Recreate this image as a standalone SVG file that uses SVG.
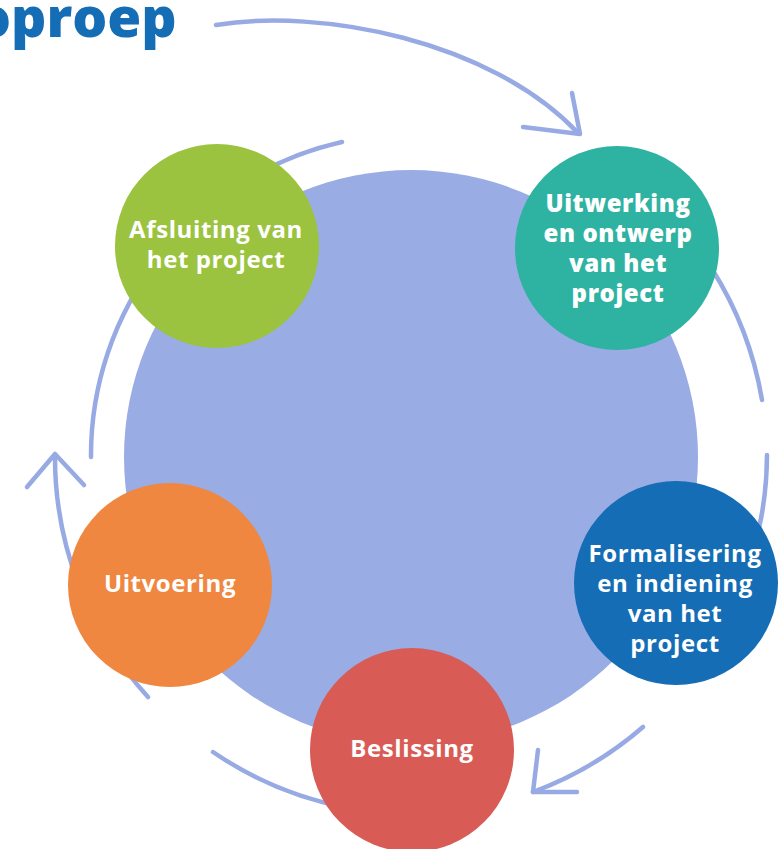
<svg xmlns="http://www.w3.org/2000/svg" width="779" height="849" viewBox="0 0 779 849">
<style>
.arc{fill:none;stroke:#98aae3;stroke-width:4.5;stroke-linecap:round;stroke-linejoin:round}
.lbl{font-family:"Open Sans","Liberation Sans",sans-serif;font-weight:700;font-size:24px;letter-spacing:0.6px;fill:#ffffff;text-anchor:middle}
.heavy{font-weight:800;font-size:24px;letter-spacing:0.6px}
</style>
<rect width="779" height="849" fill="#ffffff"/>
<text x="-24" y="37" font-family="'Open Sans','Liberation Sans',sans-serif" font-weight="800" font-size="55" fill="#146db5">oproep</text>
<g id="connectors">
<path class="arc" d="M216,25 C320,8 490,40 578,133"/>
<path class="arc" d="M572,93 L580,134 L523,127"/>
<path class="arc" d="M342,142 A321,321 0 0 0 91,457"/>
<path class="arc" d="M712,269 A356,356 0 0 1 762,400"/>
<path class="arc" d="M767,455 A356,356 0 0 1 754,549"/>
<path class="arc" d="M643,727 A356,356 0 0 1 533,792"/>
<path class="arc" d="M538,750 L533,792 L577,792"/>
<path class="arc" d="M213,752 A356,356 0 0 0 349,808"/>
<path class="arc" d="M148,697 A356,356 0 0 1 55,455"/>
<path class="arc" d="M27,487 L55,454 L84,485"/>
</g>
<g id="center"><circle cx="411" cy="457" r="287" fill="#99ace4"/></g>
<g id="afsluiting">
<circle cx="217" cy="246" r="102" fill="#9bc33f"/>
<text class="lbl" x="216" y="238">Afsluiting van</text>
<text class="lbl" x="216" y="268">het project</text>
</g>
<g id="uitwerking">
<circle cx="617" cy="248" r="102" fill="#2eb2a2"/>
<text class="lbl heavy" x="618" y="212">Uitwerking</text>
<text class="lbl heavy" x="618" y="242">en ontwerp</text>
<text class="lbl heavy" x="618" y="272">van het</text>
<text class="lbl heavy" x="618" y="302">project</text>
</g>
<g id="formalisering">
<circle cx="676" cy="583" r="102" fill="#146db5"/>
<text class="lbl" x="675" y="562">Formalisering</text>
<text class="lbl" x="675" y="592">en indiening</text>
<text class="lbl" x="675" y="622">van het</text>
<text class="lbl" x="675" y="652">project</text>
</g>
<g id="beslissing">
<circle cx="412" cy="750" r="102" fill="#d95b55"/>
<text class="lbl" x="412" y="757">Beslissing</text>
</g>
<g id="uitvoering">
<circle cx="170" cy="585" r="102" fill="#ef8741"/>
<text class="lbl" x="170" y="592">Uitvoering</text>
</g>
</svg>
